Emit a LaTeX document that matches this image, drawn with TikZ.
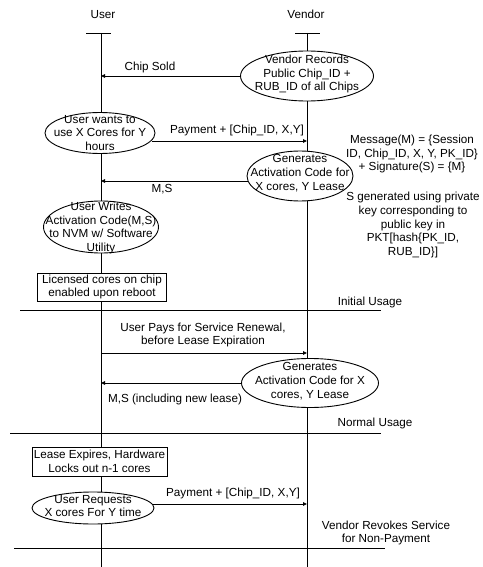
\documentclass[tikz,border=0pt]{standalone}
\usepackage{fontspec}
\setmainfont{Liberation Sans}
\usetikzlibrary{arrows.meta,calc,shapes.geometric}

\begin{document}
\begin{tikzpicture}[x=1pt,y=-1pt,
  every node/.style={font=\fontsize{11.7}{13.8}\selectfont, inner sep=0pt, align=center},
  line/.style={line width=0.9pt},
  msg/.style={line width=0.9pt, -{Triangle[length=4pt,width=3.5pt]}},
  ell/.style={ellipse, draw, line width=0.9pt, fill=white},
  box/.style={draw, line width=0.9pt, fill=white},
]
\useasboundingbox (0,0) rectangle (482,567);

% lifelines with their head bars
\coordinate (ut) at (101,33); \coordinate (ub) at (101,567);
\coordinate (vt) at (307,33); \coordinate (vb) at (307,567);
\node (user) at (103,15) {User};
\node (vendor) at (306,14) {Vendor};
\draw[line] (ut) -- (ub);
\draw[line] (vt) -- (vb);
\draw[line] ($(ut)+(-15,0)$) -- ($(ut)+(10,0)$);
\draw[line] ($(vt)+(-12,0)$) -- ($(vt)+(13,0)$);

% phase separators
\coordinate (s1a) at (20,310);  \coordinate (s1b) at (381,310);
\coordinate (s2a) at (10,433);  \coordinate (s2b) at (381,433);
\coordinate (s3a) at (14,548);  \coordinate (s3b) at (385,548);
\draw[line] (s1a) -- (s1b);
\draw[line] (s2a) -- (s2b);
\draw[line] (s3a) -- (s3b);
\node (initial) at (370,302) {Initial Usage};
\node (normal) at (375,423) {Normal Usage};
\node (revoke) at (386,533) {Vendor Revokes Service\\for Non-Payment};

% activities
\node[ell, minimum width=133, minimum height=50] (e1) at (307,76) {};
\node (t1) at (307,74) {Vendor Records\\Public Chip\_ID +\\RUB\_ID of all Chips};

\node[ell, minimum width=110, minimum height=41] (e2) at (100,133) {};
\node (t2) at (100,133) {User wants to\\use X Cores for Y\\hours};

\node[ell, minimum width=106, minimum height=50] (e3) at (300,176) {};
\node (t3) at (300,173) {Generates\\Activation Code for\\X cores, Y Lease};

\node[ell, minimum width=115, minimum height=52] (e4) at (101,227) {};
\node (t4) at (101,228) {User Writes\\Activation Code(M,S)\\to NVM w/ Software\\Utility};

\node[box, minimum width=129, minimum height=28] (b1) at (102,287)
  {Licensed cores on chip\\enabled upon reboot};

\node[ell, minimum width=137, minimum height=49] (e5) at (310,383) {};
\node (t5) at (310,381) {Generates\\Activation Code for X\\cores, Y Lease};

\node[box, minimum width=135, minimum height=29] (b2) at (99.5,461.5)
  {Lease Expires, Hardware\\Locks out n-1 cores};

\node[ell, minimum width=122, minimum height=32] (e6) at (93,508) {};
\node (t6) at (93,506) {User Requests\\X cores For Y time};

% side notes
\node (note1) at (412,154) {Message(M) = \{Session\\ID, Chip\_ID, X, Y, PK\_ID\}\\+ Signature(S) = \{M\}};
\node (note2) at (413,225) {S generated using private\\key corresponding to\\public key in\\PKT[hash\{PK\_ID,\\RUB\_ID\}]};

% messages
\draw[msg] (e1.west) -- (e1.west -| ut);
\node (l1) at (150,67) {Chip Sold};

\coordinate (p2) at ($(e2.east)+(-3,8)$);
\draw[msg] (p2) -- (p2 -| vt);
\node (l2) at (237,130) {Payment + [Chip\_ID, X,Y]};

\coordinate (p3) at ($(e3.west)+(1,5)$);
\draw[msg] (p3) -- (p3 -| ut);
\node (l3) at (162,189) {M,S};

\coordinate (p4) at (101,353);
\draw[msg] (p4) -- (p4 -| vt);
\node (l4) at (203,335) {User Pays for Service Renewal,\\before Lease Expiration};

\draw[msg] (e5.west) -- (e5.west -| ut);
\node (l5) at (175,399) {M,S (including new lease)};

\coordinate (p6) at ($(e6.east)+(-2,-4)$);
\draw[msg] (p6) -- (p6 -| vt);
\node (l6) at (233,493) {Payment + [Chip\_ID, X,Y]};
\end{tikzpicture}
\end{document}
